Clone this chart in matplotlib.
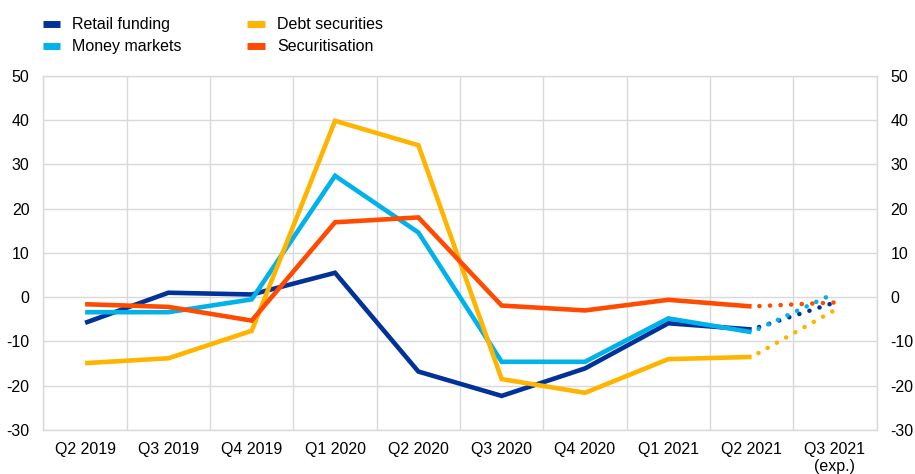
import matplotlib
matplotlib.use("Agg")
import matplotlib.pyplot as plt
import numpy as np

plt.rcParams['font.family'] = ['Liberation Sans', 'DejaVu Sans']
plt.rcParams['axes.unicode_minus'] = False

quarters = ["Q2 2019", "Q3 2019", "Q4 2019", "Q1 2020", "Q2 2020",
            "Q3 2020", "Q4 2020", "Q1 2021", "Q2 2021", "Q3 2021\n(exp.)"]

retail_funding = [-5.8, 1.0, 0.6, 5.5, -16.8, -22.3, -16.1, -5.9, -7.3, -1.2]
money_markets = [-3.4, -3.4, -0.5, 27.4, 14.6, -14.6, -14.6, -4.8, -7.9, 0.9]
debt_securities = [-14.9, -13.8, -7.6, 39.8, 34.3, -18.5, -21.6, -14.0, -13.5, -2.9]
securitisation = [-1.6, -2.2, -5.3, 16.9, 18.0, -1.9, -3.0, -0.6, -2.1, -1.2]

series = [
    ("Retail funding", retail_funding, "#003299"),
    ("Money markets", money_markets, "#00B1EA"),
    ("Debt securities", debt_securities, "#FFB400"),
    ("Securitisation", securitisation, "#FF4B00"),
]

fs = 11.5

fig = plt.figure(figsize=(9.15, 4.74), dpi=100)
ax = fig.add_axes([0.0475, 0.0928, 0.9105, 0.7475])

x = np.arange(len(quarters))
n_actual = len(quarters) - 1  # last quarter is an expectation
lw = 3.3

handles = []
for name, vals, col in series:
    vals = np.asarray(vals)
    h, = ax.plot(x[:n_actual], vals[:n_actual], color=col, lw=lw,
                 solid_joinstyle="miter", solid_capstyle="butt", label=name)
    ax.plot(x[n_actual - 1:], vals[n_actual - 1:], color=col, lw=lw,
            linestyle=(0.6, (0.01, 2.3)), dash_capstyle="round")
    handles.append(h)

ax.set_xlim(-0.5, len(quarters) - 0.5)
ax.set_ylim(-30, 50)
ax.set_yticks(np.arange(-30, 51, 10))
ax.set_xticks(x)
ax.set_xticklabels(quarters, fontsize=fs, linespacing=1.2)
ax.set_xticks(np.arange(-0.5, len(quarters), 1.0), minor=True)

ax.grid(False)
ax.grid(True, axis="y", which="major", color="#d9d9d9", lw=1.0)
ax.grid(True, axis="x", which="minor", color="#d9d9d9", lw=1.0)
ax.set_axisbelow(True)

for s in ax.spines.values():
    s.set_color("#d9d9d9")
    s.set_linewidth(1.0)

ax.tick_params(axis="both", which="both", length=0)
ax.tick_params(axis="x", pad=8.5)
ax.tick_params(axis="y", labelsize=fs, pad=10, labelleft=True, labelright=True)

leg = fig.legend(handles=handles, loc="upper left", bbox_to_anchor=(0.031, 0.994),
                 ncol=2, frameon=False, fontsize=fs, handlelength=1.1,
                 handletextpad=0.75, columnspacing=4.1, labelspacing=0.44)
for line in leg.get_lines():
    line.set_linewidth(5)

fig.savefig("out.png", dpi=100)
